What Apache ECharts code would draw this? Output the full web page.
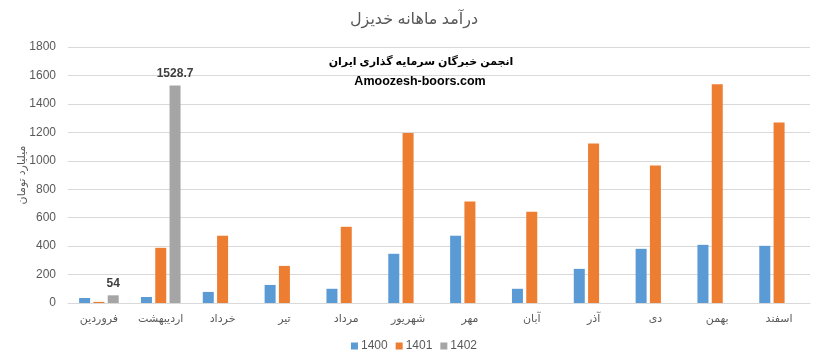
<!DOCTYPE html>
<html>
<head>
<meta charset="utf-8">
<script src="https://cdn.jsdelivr.net/npm/echarts@6/dist/echarts.min.js"></script>
<style>html,body{margin:0;padding:0;background:#fff}#c{width:828px;height:362px}</style>
</head>
<body>
<div id="c"></div>
<script>
const categories = ['فروردین','اردیبهشت','خرداد','تیر','مرداد','شهریور','مهر','آبان','آذر','دی','بهمن','اسفند'];
const s1400 = [35, 42, 78, 127, 100, 346, 473, 100, 240, 381, 409, 402];
const s1401 = [8, 388, 473, 261, 536, 1195, 713, 642, 1122, 967, 1538, 1270];
const s1402 = [54, 1528.7, null, null, null, null, null, null, null, null, null, null];
const seriesNames = ['1400','1401','1402'];
const yTicks = {min: 0, max: 1800, interval: 200};

const FONT = "'Liberation Sans', 'DejaVu Sans', sans-serif";
const chart = echarts.init(document.getElementById('c'));
chart.setOption({
  animation: false,
  textStyle: {fontFamily: FONT},
  title: {
    text: 'درآمد ماهانه خدیزل',
    left: 'center', top: 7,
    textStyle: {fontFamily: FONT, fontSize: 16, fontWeight: 'normal', color: '#595959'}
  },
  legend: {
    bottom: 5, left: 'center',
    icon: 'rect', itemWidth: 7, itemHeight: 7, itemGap: 8,
    textStyle: {fontFamily: FONT, fontSize: 12, color: '#595959', padding: [0, 0, 0, -2]},
    data: seriesNames
  },
  grid: {left: 68, right: 18, top: 47, bottom: 59, containLabel: false},
  xAxis: {
    type: 'category', data: categories,
    axisLine: {lineStyle: {color: '#d9d9d9'}},
    axisTick: {show: false},
    axisLabel: {color: '#595959', fontSize: 11, margin: 10, fontFamily: FONT}
  },
  yAxis: {
    type: 'value', min: yTicks.min, max: yTicks.max, interval: yTicks.interval,
    name: 'میلیارد تومان', nameLocation: 'middle', nameGap: 41, nameRotate: 90, nameMoveOverlap: false,
    nameTextStyle: {color: '#595959', fontSize: 11, fontFamily: FONT},
    axisLine: {show: false}, axisTick: {show: false},
    axisLabel: {color: '#595959', fontSize: 12, margin: 12, fontFamily: FONT, formatter: function (v) { return String(v); }},
    splitLine: {lineStyle: {color: '#d9d9d9', width: 1}}
  },
  graphic: [
    {type: 'text', x: 421, y: 62, style: {text: 'انجمن خبرگان سرمایه گذاری ایران', textAlign: 'center', textVerticalAlign: 'middle', fontFamily: FONT, fontSize: 11, fontWeight: 'bold', fill: '#000'}},
    {type: 'text', x: 420, y: 82, style: {text: 'Amoozesh-boors.com', textAlign: 'center', textVerticalAlign: 'middle', fontFamily: FONT, fontSize: 12.5, fontWeight: 'bold', fill: '#000'}}
  ],
  series: [
    {name: seriesNames[0], type: 'bar', data: s1400, barWidth: 11, barGap: '30%', itemStyle: {color: '#5B9BD5'}},
    {name: seriesNames[1], type: 'bar', data: s1401, barWidth: 11, barGap: '30%', itemStyle: {color: '#ED7D31'}},
    {name: seriesNames[2], type: 'bar', data: s1402, barWidth: 11, barGap: '30%', itemStyle: {color: '#A5A5A5'},
     label: {show: true, position: 'top', distance: 6, color: '#404040', fontWeight: 'bold', fontSize: 12, fontFamily: FONT}}
  ]
});
</script>
</body>
</html>
